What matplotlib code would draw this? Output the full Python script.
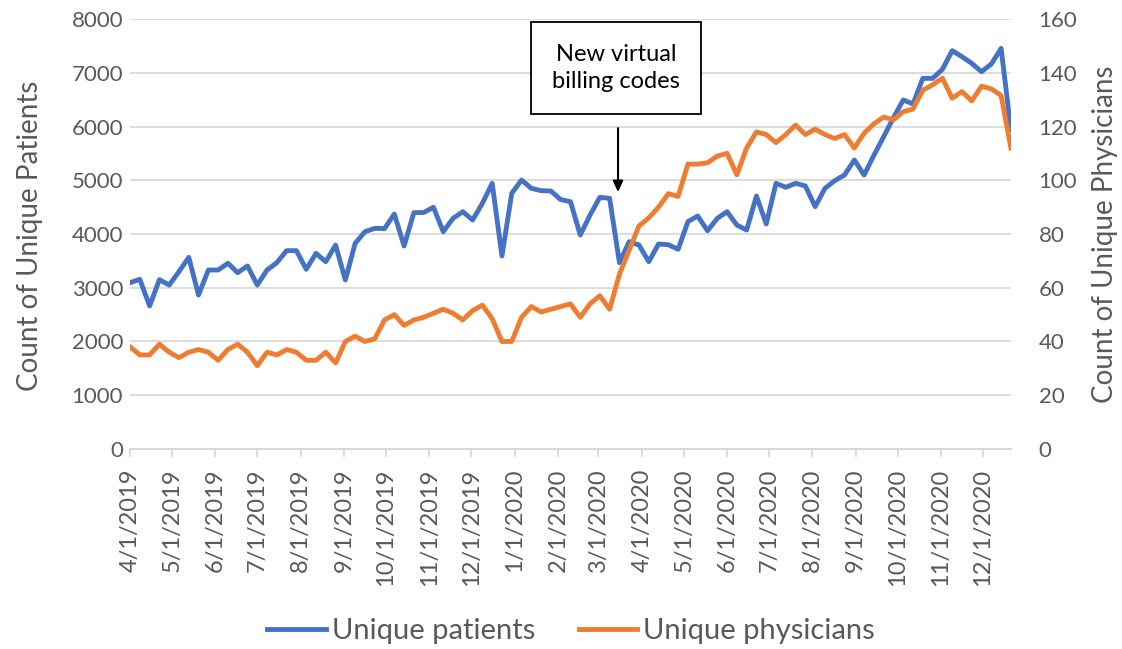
import matplotlib
matplotlib.use('Agg')
import matplotlib.pyplot as plt
import matplotlib.dates as mdates
import pandas as pd

# Weekly counts, starting Monday 4/1/2019
start_date = '2019-04-01'
patients = [3094, 3157, 2660, 3150, 3050, 3300, 3566, 2865, 3330, 3330,
            3455, 3280, 3405, 3050, 3330, 3467, 3690, 3690, 3343, 3640,
            3485, 3795, 3144, 3826, 4043, 4105, 4100, 4372, 3777, 4397,
            4400, 4497, 4043, 4291, 4415, 4260, 4571, 4943, 3590, 4757,
            5004, 4850, 4806, 4800, 4640, 4601, 3981, 4353, 4682, 4664,
            3467, 3857, 3795, 3485, 3814, 3800, 3715, 4229, 4335, 4060,
            4291, 4415, 4167, 4074, 4707, 4186, 4943, 4869, 4943, 4893,
            4509, 4850, 4993, 5098, 5377, 5098, 5464, 5811, 6164, 6493,
            6419, 6896, 6896, 7064, 7411, 7299, 7175, 7020, 7163, 7454,
            5935]
physicians = [38, 35, 35, 39, 36, 34, 36, 37, 36, 33,
              37, 39, 36, 31, 36, 35, 37, 36, 33, 33,
              36, 32, 40, 42, 40, 41, 48, 50, 46, 48,
              49, 50.5, 52, 50.5, 48, 51.5, 53.5, 48.5, 40, 40,
              49, 53, 51, 52, 53, 54, 49, 54, 57, 52,
              65, 74, 83, 86, 90, 95, 94, 106, 106, 106.5,
              109, 110, 102, 112, 118, 117, 114, 117, 120.5, 117,
              119, 117, 115.5, 117, 112, 117.5, 121, 123.5, 122.5, 125.5,
              126.5, 133.5, 135.5, 138, 130.5, 133, 129.5, 135, 134, 131.5,
              112]
dates = pd.date_range(start_date, periods=len(patients), freq='7D')

annot_date = pd.Timestamp('2020-03-15')
annot_text = "New virtual\nbilling codes"

plt.rcParams['font.family'] = ['Lato', 'DejaVu Sans']
grey = '#595959'
blue = '#4472C4'
orange = '#ED7D31'

fig = plt.figure(figsize=(11.22, 6.49), dpi=100)
ax = fig.add_axes([0.1159, 0.3082, 0.9010 - 0.1159, 0.9707 - 0.3082])
ax2 = ax.twinx()

l1, = ax.plot(dates, patients, color=blue, lw=3.5, solid_joinstyle='round',
              label='Unique patients', zorder=3)
l2, = ax2.plot(dates, physicians, color=orange, lw=3.5, solid_joinstyle='round',
               label='Unique physicians', zorder=3)

ax.set_xlim(dates[0], dates[-1])
ax.set_ylim(0, 8000)
ax2.set_ylim(0, 160)
ax.set_yticks(range(0, 8001, 1000))
ax2.set_yticks(range(0, 161, 20))
ax.grid(axis='y', color='#D9D9D9', lw=1.3)
ax.set_axisbelow(True)

for a in (ax, ax2):
    for s in ('top', 'left', 'right'):
        a.spines[s].set_visible(False)
    a.spines['bottom'].set_color('#D9D9D9')
    a.spines['bottom'].set_linewidth(1.3)

ax.xaxis.set_major_locator(mdates.MonthLocator())
ax.xaxis.set_major_formatter(mdates.DateFormatter('%-m/%-d/%Y'))
ax.tick_params(axis='x', colors='#D9D9D9', length=6, width=1.3,
               labelcolor=grey, labelsize=17, rotation=90, pad=8)
ax.tick_params(axis='y', length=0, labelcolor=grey, labelsize=16, pad=5)
ax2.tick_params(axis='y', length=0, labelcolor=grey, labelsize=16, pad=20)

ax.set_ylabel('Count of Unique Patients', fontsize=20, color=grey)
ax2.set_ylabel('Count of Unique Physicians', fontsize=20, color=grey)
ax.yaxis.label.set_va('center')
ax2.yaxis.label.set_va('center')
ax.yaxis.set_label_coords(-0.1135, 0.495)
ax2.yaxis.set_label_coords(1.107, 0.5)

# annotation box and arrow
ax.text(0.552, 0.886, annot_text, transform=ax.transAxes, ha='center',
        va='center', fontsize=17, linespacing=1.4, color='black', zorder=5,
        bbox=dict(boxstyle='square,pad=0.9', fc='white', ec='black', lw=1.3))
ax.annotate('', xy=(annot_date, 4780), xytext=(annot_date, 5970),
            arrowprops=dict(arrowstyle='-|>,head_length=0.65,head_width=0.3',
                            color='black', lw=1.5, shrinkA=0, shrinkB=0),
            zorder=5)

fig.legend(handles=[l1, l2], loc='center', bbox_to_anchor=(0.509, 0.027),
           ncol=2, frameon=False, fontsize=21, handlelength=2,
           handletextpad=0.2, columnspacing=1.5, labelcolor=grey)

fig.savefig('out.png', dpi=100)
